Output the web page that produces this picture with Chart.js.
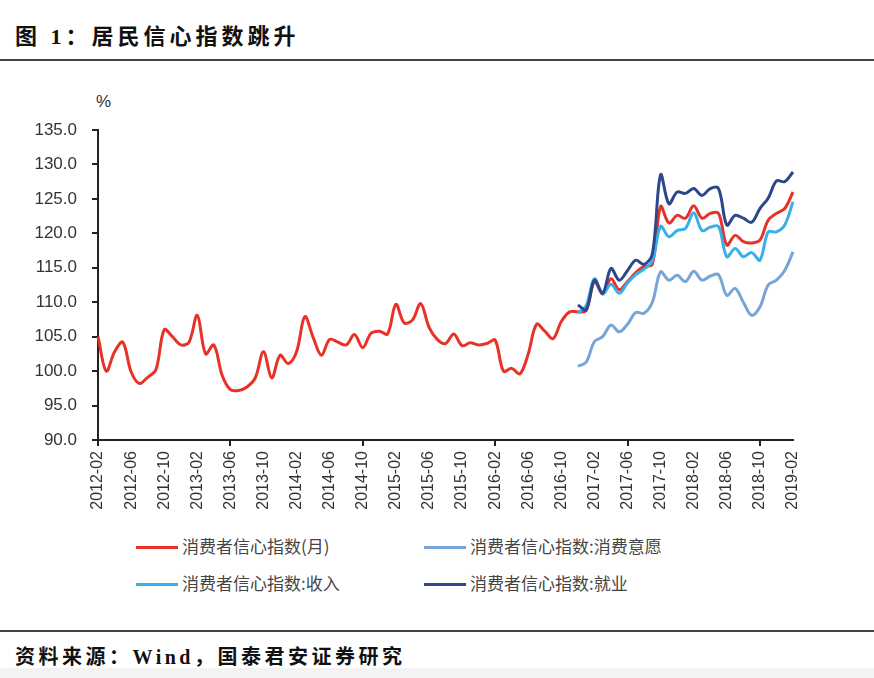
<!DOCTYPE html>
<html lang="zh">
<head>
    <meta charset="UTF-8">
    <title>居民信心指数跳升</title>
    <script src="https://cdn.jsdelivr.net/npm/chart.js@4.4.1/dist/chart.umd.min.js"></script>
    <style>
        body {
            margin: 0;
            width: 874px;
            height: 678px;
            position: relative;
            background: #fff;
            font-family: "Liberation Serif", "Noto Sans CJK SC", serif;
            overflow: hidden;
        }
        .title {
            position: absolute;
            left: 15px;
            top: 18px;
            font-size: 22px;
            font-weight: bold;
            letter-spacing: 4px;
            color: #111;
            white-space: pre;
        }
        .rule {
            position: absolute;
            left: 0;
            width: 874px;
            height: 2px;
            background: #444;
        }
        .source {
            position: absolute;
            left: 15px;
            top: 641px;
            font-size: 20px;
            font-weight: bold;
            letter-spacing: 3.5px;
            color: #111;
            white-space: pre;
        }
        .foot {
            position: absolute;
            left: 0;
            top: 668px;
            width: 874px;
            height: 10px;
            background: #f3f3f3;
        }
        .unit {
            position: absolute;
            left: 96px;
            top: 92px;
            font: 17px "Liberation Sans", sans-serif;
            color: #333;
        }
        #chartBox {
            position: absolute;
            left: 0;
            top: 80px;
            width: 874px;
            height: 450px;
        }
        .legend-item {
            position: absolute;
            font: 17px "Noto Sans CJK SC", sans-serif;
            color: #444;
            white-space: pre;
            line-height: 20px;
        }
        .legend-item i {
            display: inline-block;
            width: 42px;
            height: 3px;
            vertical-align: middle;
            margin-right: 4px;
            position: relative;
            top: -1px;
        }
    </style>
</head>
<body>
    <div class="title">图 1：居民信心指数跳升</div>
    <div class="rule" style="top:59px"></div>

    <div class="unit">%</div>
    <div id="chartBox"><canvas id="confChart"></canvas></div>

    <div class="legend-item" style="left:136px; top:536px"><i style="background:rgb(232,50,40)"></i>消费者信心指数(月)</div>
    <div class="legend-item" style="left:424px; top:536px"><i style="background:rgb(120,165,215)"></i>消费者信心指数:消费意愿</div>
    <div class="legend-item" style="left:136px; top:573px"><i style="background:rgb(55,175,235)"></i>消费者信心指数:收入</div>
    <div class="legend-item" style="left:424px; top:573px"><i style="background:rgb(45,70,140)"></i>消费者信心指数:就业</div>

    <div class="rule" style="top:630px"></div>
    <div class="source">资料来源：Wind，国泰君安证券研究</div>
    <div class="foot"></div>

    <script>
        // month labels, 2012-02 .. 2019-02
        const months = [
            '2012-02', '2012-03', '2012-04', '2012-05', '2012-06', '2012-07', '2012-08', '2012-09', '2012-10', '2012-11', '2012-12',
            '2013-01', '2013-02', '2013-03', '2013-04', '2013-05', '2013-06', '2013-07', '2013-08', '2013-09', '2013-10', '2013-11', '2013-12',
            '2014-01', '2014-02', '2014-03', '2014-04', '2014-05', '2014-06', '2014-07', '2014-08', '2014-09', '2014-10', '2014-11', '2014-12',
            '2015-01', '2015-02', '2015-03', '2015-04', '2015-05', '2015-06', '2015-07', '2015-08', '2015-09', '2015-10', '2015-11', '2015-12',
            '2016-01', '2016-02', '2016-03', '2016-04', '2016-05', '2016-06', '2016-07', '2016-08', '2016-09', '2016-10', '2016-11', '2016-12',
            '2017-01', '2017-02', '2017-03', '2017-04', '2017-05', '2017-06', '2017-07', '2017-08', '2017-09', '2017-10', '2017-11', '2017-12',
            '2018-01', '2018-02', '2018-03', '2018-04', '2018-05', '2018-06', '2018-07', '2018-08', '2018-09', '2018-10', '2018-11', '2018-12',
            '2019-01', '2019-02'
        ];

        // 消费者信心指数(月), from 2012-02
        const confidence = [
            105.0, 100.0, 102.8, 104.2, 99.9, 98.2, 99.1, 100.2, 106.0, 105.0, 103.8,
            104.2, 108.1, 102.5, 103.8, 99.4, 97.3, 97.2, 97.7, 99.0, 102.8, 99.0, 102.3,
            101.1, 102.8, 107.9, 104.9, 102.3, 104.6, 104.2, 103.8, 105.3, 103.4, 105.5, 105.8,
            105.4, 109.7, 107.0, 107.4, 109.8, 106.4, 104.6, 104.0, 105.4, 103.7, 104.1, 103.8,
            104.0, 104.5, 100.0, 100.4, 99.6, 102.5, 106.8, 105.8, 104.7, 107.2, 108.6, 108.6,
            108.8, 113.0, 111.2, 113.4, 111.8, 113.0, 114.3, 115.2, 115.5, 123.9, 121.5, 122.6,
            122.2, 124.0, 122.2, 122.9, 122.9, 118.3, 119.7, 118.8, 118.6, 119.0, 121.9, 122.9,
            123.6, 126.0
        ];

        // sub-indices start at 2016-12
        const subStart = '2016-12';
        const willingness = [
            100.7, 101.3, 104.3, 105.0, 106.7, 105.7, 106.8, 108.5, 108.4, 110.0,
            114.4, 113.2, 113.9, 113.0, 114.5, 113.2, 113.8, 114.0, 111.0, 112.0,
            110.0, 108.1, 109.3, 112.5, 113.2, 114.6, 117.3
        ];
        const income = [
            108.4, 109.5, 113.4, 111.2, 112.6, 111.3, 112.8, 114.0, 114.8, 116.0,
            121.0, 119.5, 120.4, 120.7, 123.0, 120.4, 120.9, 121.0, 116.6, 117.8,
            116.6, 117.2, 116.1, 120.2, 120.2, 121.2, 124.6
        ];
        const employment = [
            109.6, 108.9, 113.2, 111.3, 114.9, 113.2, 114.6, 116.1, 115.5, 117.0,
            128.5, 124.3, 126.0, 125.8, 126.5, 125.5, 126.5, 126.5, 121.2, 122.6,
            122.2, 121.6, 123.6, 125.1, 127.6, 127.5, 128.9
        ];

        const yTicks = [90, 95, 100, 105, 110, 115, 120, 125, 130, 135];

        function padFront(arr) {
            const lead = months.indexOf(subStart);
            return new Array(lead).fill(null).concat(arr);
        }

        function series(label, data, color, order) {
            return {
                label: label,
                data: data,
                borderColor: color,
                borderWidth: 3,
                pointRadius: 0,
                tension: 0.35,
                fill: false,
                order: order
            };
        }

        const axisColor = '#222';

        const ctx = document.getElementById('confChart').getContext('2d');
        new Chart(ctx, {
            type: 'line',
            data: {
                labels: months,
                datasets: [
                    series('消费者信心指数(月)', confidence, 'rgb(232,50,40)', 3),
                    series('消费者信心指数:消费意愿', padFront(willingness), 'rgb(120,165,215)', 2),
                    series('消费者信心指数:收入', padFront(income), 'rgb(55,175,235)', 1),
                    series('消费者信心指数:就业', padFront(employment), 'rgb(45,70,140)', 0)
                ]
            },
            options: {
                responsive: true,
                maintainAspectRatio: false,
                animation: false,
                layout: { padding: { top: 50, right: 81, bottom: 0, left: 0 } },
                plugins: {
                    legend: { display: false },
                    tooltip: { enabled: false }
                },
                scales: {
                    x: {
                        offset: false,
                        border: { color: axisColor, width: 2 },
                        grid: {
                            drawOnChartArea: false,
                            tickLength: 6,
                            lineWidth: 2,
                            color: function(c) {
                                return c.index % 4 === 0 ? axisColor : 'rgba(0,0,0,0)';
                            }
                        },
                        ticks: {
                            autoSkip: false,
                            minRotation: 90,
                            maxRotation: 90,
                            padding: 5,
                            color: '#333',
                            font: { family: 'Liberation Sans', size: 16 },
                            callback: function(value, index) {
                                return index % 4 === 0 ? months[index] : null;
                            }
                        },
                        afterFit: function(scale) { scale.height = 90; }
                    },
                    y: {
                        min: yTicks[0],
                        max: yTicks[yTicks.length - 1],
                        border: { color: axisColor, width: 2 },
                        grid: {
                            drawOnChartArea: false,
                            tickLength: 6,
                            lineWidth: 2,
                            color: axisColor
                        },
                        afterBuildTicks: function(scale) {
                            scale.ticks = yTicks.map(function(v) { return { value: v }; });
                        },
                        ticks: {
                            padding: 15,
                            color: '#333',
                            font: { family: 'Liberation Sans', size: 17 },
                            callback: function(value) { return value.toFixed(1); }
                        },
                        afterFit: function(scale) { scale.width = 98; }
                    }
                }
            }
        });
    </script>
</body>
</html>
